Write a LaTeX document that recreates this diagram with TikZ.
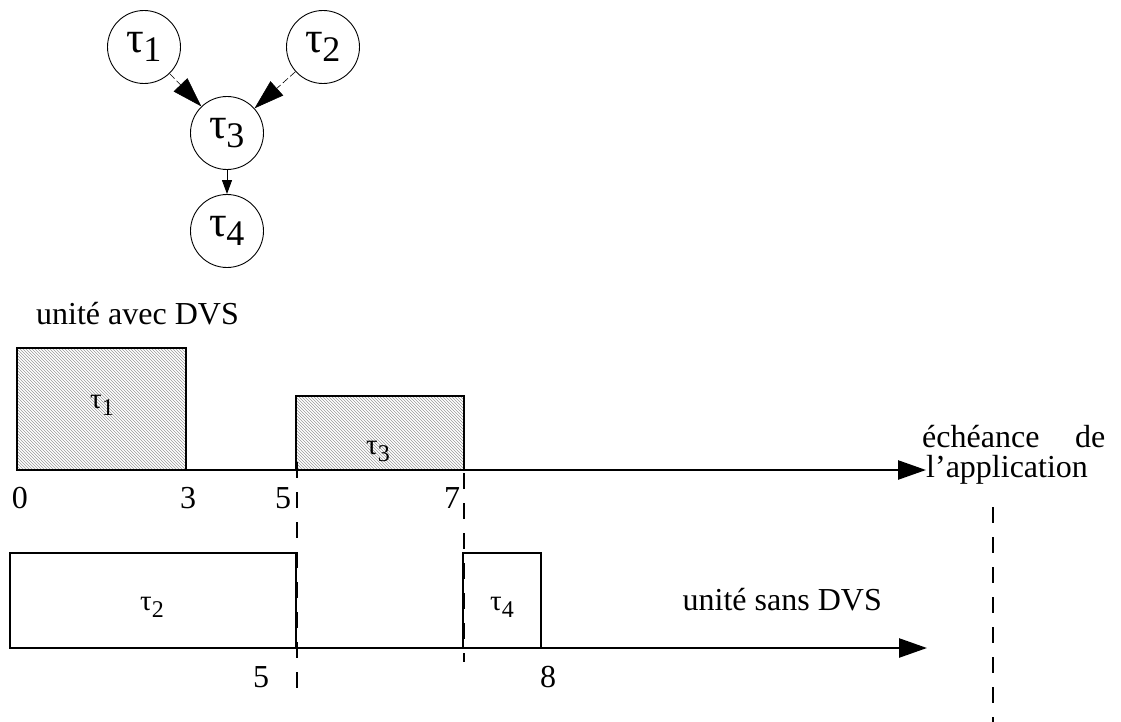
\documentclass[tikz,border=0pt]{standalone}
\usepackage{fontspec}
\setmainfont{Liberation Serif}
\usetikzlibrary{arrows.meta,patterns}
\newcommand\tauc[1]{{\fontsize{44}{44}\selectfont τ\kern-1pt\raisebox{-9pt}{\fontsize{36}{36}\selectfont #1}}}
\newcommand\taub[1]{{\fontsize{29}{29}\selectfont τ\raisebox{-7pt}{\fontsize{24}{24}\selectfont #1}}}
\begin{document}
\begin{tikzpicture}[x=1pt,y=-1pt,
  task/.style={draw,circle,line width=0.9pt,minimum size=73pt,inner sep=0pt},
  lbl/.style={font=\fontsize{32}{32}\selectfont,inner sep=0pt},
  boxline/.style={line width=2.5pt},
  hatch/.style={pattern=north west lines,pattern color=gray!80},
  axis/.style={line width=2.5pt,-{Triangle[length=28pt,width=19pt]}},
  dep/.style={line width=0.6pt,dash pattern=on 7pt off 3pt,-{Triangle[length=30pt,width=19pt]}},
  dep2/.style={line width=1pt,-{Triangle[length=14pt,width=10pt]}},
  vdash/.style={line width=2pt,dash pattern=on 16pt off 14pt}]
\useasboundingbox (0,0) rectangle (1121,722);
% graph
\node[task] (t1) at (144,47) {\tauc{1}};
\node[task] (t2) at (323,47) {\tauc{2}};
\node[task] (t3) at (227,133) {\tauc{3}};
\node[task] (t4) at (227,231) {\tauc{4}};
\draw[dep] (t1) -- (t3);
\draw[dep] (t2) -- (t3);
\draw[dep2] (t3) -- (t4);
% upper unit
\node[lbl,anchor=west] (uavec) at (36,314) {unité avec DVS};
\draw[boxline,hatch] (17,348) rectangle (186,470);
\draw[boxline,hatch] (296,396) rectangle (464,470);
\node (b1) at (102,405) {\taub{1}};
\node (b3) at (378,451) {\taub{3}};
\coordinate (a1s) at (16,470);
\coordinate (a1e) at (926,470);
\draw[axis] (a1s) -- (a1e);
\node[lbl] (n0) at (20,498) {0};
\node[lbl] (n3) at (188,498) {3};
\node[lbl] (n5) at (283,498) {5};
\node[lbl] (n7) at (452,498) {7};
% lower unit
\draw[boxline] (10,553) rectangle (296,648);
\draw[boxline] (463,553) rectangle (541,648);
\node (b2) at (152,607) {\taub{2}};
\node (b4) at (502,607) {\taub{4}};
\coordinate (a2s) at (9,648);
\coordinate (a2e) at (927,648);
\draw[axis] (a2s) -- (a2e);
\node[lbl] (m5) at (261,677) {5};
\node[lbl] (m8) at (548,677) {8};
\node[lbl,anchor=east] (usans) at (882,600) {unité sans DVS};
% dashed separators
\coordinate (d5t) at (297,462);
\coordinate (d5b) at (297,690);
\coordinate (d7t) at (464,443);
\coordinate (d7b) at (464,662);
\draw[vdash] (d5t) -- (d5b);
\draw[vdash] (d7t) -- (d7b);
% deadline
\node[lbl,anchor=west] (ech1) at (922,437) {\makebox[183pt][s]{échéance de}};
\node[lbl,anchor=west] (ech2) at (926,470) {l’application};
\coordinate (ddt) at (993,507);
\coordinate (ddb) at (993,722);
\draw[vdash] (ddt) -- (ddb);
\end{tikzpicture}
\end{document}
